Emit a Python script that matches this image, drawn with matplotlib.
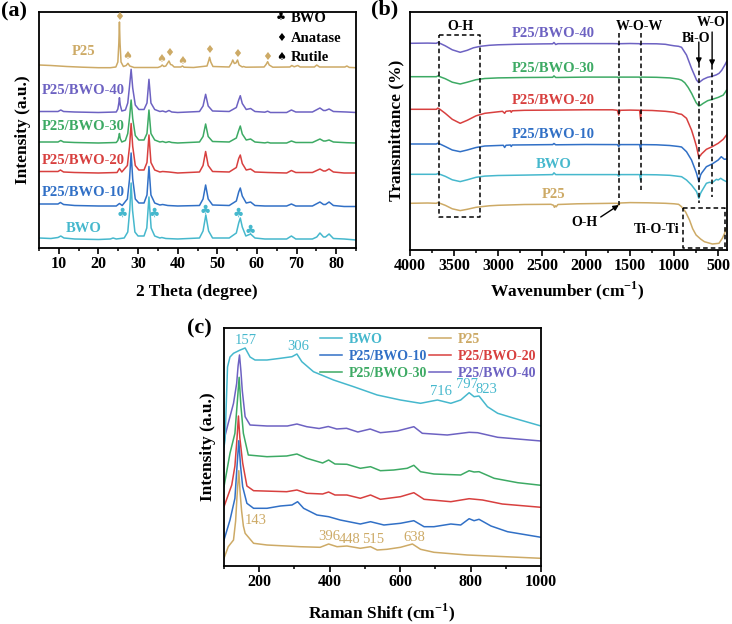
import matplotlib
matplotlib.use('Agg')
import matplotlib.pyplot as plt
from matplotlib.ticker import MultipleLocator

plt.rcParams['font.family'] = ['Liberation Serif', 'DejaVu Sans']
plt.rcParams['font.weight'] = 'bold'
plt.rcParams['mathtext.fontset'] = 'custom'
plt.rcParams['mathtext.rm'] = 'Liberation Serif:bold'
plt.rcParams['mathtext.bf'] = 'Liberation Serif:bold'

# ---------------- colours / names ----------------
names = ['P25', 'P25/BWO-40', 'P25/BWO-30', 'P25/BWO-20', 'P25/BWO-10', 'BWO']
colors = ['#CDAA66', '#6D62C2', '#3DAA64', '#D8403F', '#3170C6', '#46B8CD']

# ---------------- (a) XRD: (2theta, intensity above own baseline) ----------------
xrd_p25 = [(5, 3), (8, 2.5), (12, 1.5), (16, 0.8), (20, 0.3), (23, 0.3), (24.4, 1), (24.9, 6), (25.15, 25),
           (25.3, 46), (25.45, 25), (25.7, 6), (26.3, 1.5), (27.0, 2.5), (27.45, 4.7), (27.9, 2), (29, 0.5),
           (35, 0.5), (35.7, 1.5), (36.1, 3), (36.5, 1.5), (37.0, 2), (37.8, 7), (38.2, 3.5), (38.6, 3),
           (39.1, 1), (40.8, 1), (41.2, 2), (41.6, 0.8), (44, 0.5), (47.4, 2), (47.8, 7), (48.05, 10.7),
           (48.35, 6), (48.9, 1.5), (53, 1), (53.6, 5), (53.9, 8), (54.3, 4.5), (54.7, 5), (55.1, 8), (55.5, 3),
           (56.3, 1), (56.6, 1.5), (57.2, 0.8), (61.8, 1), (62.3, 3.5), (62.7, 6.3), (63.1, 3), (64, 0.8),
           (68.3, 1), (68.8, 2.5), (69.4, 1.2), (70.3, 2.5), (70.9, 1), (74.5, 1), (75.1, 3), (75.8, 1),
           (76.2, 1), (82.2, 1), (82.7, 2), (83.3, 0.6), (85, 0.3)]
xrd_b40 = [(5, 1.5), (9.8, 1.5), (10.5, 3), (11.2, 1.5), (14, 1), (20, 0.5), (24.5, 1), (24.9, 4), (25.15, 10),
           (25.3, 15.3), (25.5, 8), (25.9, 2), (26.8, 3), (27.4, 10), (27.85, 27), (28.25, 43.7), (28.65, 25),
           (29.3, 8), (30.2, 3.5), (31.5, 3.5), (32.25, 10), (32.75, 33.7), (33.25, 10), (34.2, 3.5), (35.5, 1.5),
           (36.2, 2), (37.0, 1), (37.8, 2.5), (38.5, 1), (40, 0.5), (45.5, 1.5), (46.4, 7), (47.05, 18.7),
           (47.7, 7), (48.8, 2), (53, 1.5), (54.8, 5.5), (55.4, 13), (55.8, 17.3), (56.3, 9.5), (57.3, 3.5),
           (58.4, 4.5), (59.5, 1.5), (62.0, 0.8), (62.7, 1.8), (63.4, 0.5), (67.5, 0.5), (68.7, 3), (69.8, 1),
           (74, 1), (75.9, 5), (76.8, 2.5), (77.3, 2.5), (78.2, 4), (79.3, 1.5), (82.6, 1), (85, 0.5)]
xrd_b30 = [(5, 1.5), (9.8, 1.5), (10.5, 3), (11.2, 1.5), (14, 1), (20, 0.5), (24.5, 1), (24.9, 3), (25.15, 7),
           (25.3, 10), (25.5, 5), (25.9, 1.5), (26.8, 3), (27.4, 10), (27.85, 26), (28.25, 43.5), (28.65, 25),
           (29.3, 8), (30.2, 3.5), (31.5, 3.5), (32.25, 10), (32.75, 33.5), (33.25, 10), (34.2, 3.5), (35.5, 1.5),
           (36.2, 2), (37.0, 1), (37.8, 1.8), (38.5, 1), (40, 0.5), (45.5, 1.5), (46.4, 7), (47.05, 19.5),
           (47.7, 7), (48.8, 2), (53, 1.5), (54.8, 5.5), (55.4, 13), (55.8, 17.5), (56.3, 9.5), (57.3, 3.5),
           (58.4, 4.5), (59.5, 1.5), (62.0, 0.6), (62.7, 1.2), (63.4, 0.5), (67.5, 0.5), (68.7, 2.5), (69.8, 1),
           (74, 1), (75.9, 4.5), (76.8, 2.5), (77.3, 2.5), (78.2, 3.5), (79.3, 1.5), (82.6, 0.8), (85, 0.5)]
xrd_b20 = [(5, 2), (9.8, 2), (10.4, 3.5), (11.2, 1.5), (14, 1), (20, 0.5), (24.7, 1), (25.3, 5), (25.9, 1.5),
           (27.3, 8), (27.85, 27), (28.25, 50), (28.65, 27), (29.3, 8), (30.2, 3.5), (31.5, 3.5), (32.25, 11),
           (32.75, 38.5), (33.25, 11), (34.2, 3.5), (35.5, 1.5), (36.2, 2), (37.8, 1.5), (40, 0.5), (45.5, 1.5),
           (46.4, 8), (47.05, 22), (47.7, 8), (48.8, 2), (53, 1.5), (54.8, 6), (55.4, 15), (55.8, 18.5),
           (56.3, 10), (57.3, 3.5), (58.4, 4.5), (59.5, 1.5), (62.7, 1), (67.5, 0.5), (68.7, 3), (69.8, 1),
           (74, 1), (75.9, 4.5), (76.8, 2.5), (77.3, 2.5), (78.2, 4.5), (79.3, 1.5), (82, 0.5), (85, 0.5)]
xrd_b10 = [(5, 3), (9.8, 3), (10.4, 4.5), (11.2, 2.5), (14, 1.5), (20, 1), (24.5, 1), (25.3, 3.5), (26, 1.5),
           (27.3, 8), (27.85, 28), (28.25, 54), (28.65, 28), (29.3, 8), (30.2, 4), (31.5, 4), (32.25, 12),
           (32.75, 40.5), (33.25, 12), (34.2, 4), (35.5, 2), (36.2, 2.5), (37.5, 1.5), (40, 1), (45.5, 1.5),
           (46.4, 8), (47.05, 22), (47.7, 8), (48.8, 2), (53, 1.5), (54.8, 6), (55.4, 15), (55.8, 19),
           (56.3, 11), (57.3, 4), (58.4, 5), (59.5, 1.5), (62, 1), (67.5, 1), (68.7, 3), (69.8, 1), (74, 1),
           (75.9, 5), (76.8, 2.5), (77.3, 2.5), (78.2, 5), (79.3, 1.5), (82, 0.5), (85, 0.5)]
xrd_bwo = [(5, 2), (8, 1.5), (9.8, 2.5), (10.5, 4), (11.3, 2), (14, 1), (20, 0.5), (23, 1), (23.7, 2), (24.5, 1),
           (26.5, 2), (27.4, 8), (27.9, 30), (28.25, 57), (28.6, 30), (29.2, 8), (30, 4), (31.5, 4), (32.2, 12),
           (32.75, 43), (33.3, 12), (34.2, 4), (35.5, 2), (36, 2.5), (37, 1.5), (40, 1), (45.5, 2), (46.4, 9),
           (47.1, 25), (47.8, 9), (48.8, 2), (53, 2), (54.8, 7), (55.4, 17), (55.8, 22), (56.3, 13), (57.2, 4),
           (58.4, 6), (59.5, 2), (62, 1), (67.5, 1), (68.7, 4), (69.8, 1), (74, 1), (75.1, 3), (75.9, 7),
           (76.8, 3), (77.3, 3), (78.2, 6), (79.3, 1.5), (82, 1), (85, 0)]
xrd_curves = [xrd_p25, xrd_b40, xrd_b30, xrd_b20, xrd_b10, xrd_bwo]
xrd_offsets = [180, 135, 104.5, 74.5, 41, 8]

anatase_pos = [(25.3, 231), (37.8, 195), (48.0, 198), (54.9, 194), (62.5, 191)]
rutile_pos = [(27.3, 192), (35.9, 189), (41.2, 187)]
bwo_pos = [(26.1, 34.7), (34.1, 34.7), (47.0, 37.3), (55.4, 34.7), (58.3, 18)]

# ---------------- (b) FTIR: (wavenumber, transmittance change) ----------------
ftir_b40 = [(4000, 0), (3800, 0.2), (3700, 0), (3685, 0.8), (3660, 0), (3600, -2.5), (3520, -6.5), (3430, -9),
            (3350, -7), (3280, -4.5), (3200, -3), (3100, -2), (3000, -1.5), (2800, -1), (2500, -0.6),
            (2380, -0.5), (2365, 0.8), (2345, -1.2), (2320, -0.4), (2000, -0.3), (1700, -0.3), (1640, -0.4),
            (1630, -1.3), (1618, -0.4), (1500, -0.2), (1392, -0.4), (1382, -1.5), (1372, -0.4), (1200, -0.5),
            (1100, -1), (1050, -1.8), (1000, -2.5), (950, -3), (916, -4), (860, -11.7), (803, -25),
            (746, -36.7), (720, -39.4), (700, -38), (670, -36), (620, -34), (569, -33), (520, -31.5),
            (490, -30), (460, -27), (440, -24), (420, -21), (405, -18.4)]
ftir_b30 = [(4000, 0), (3700, 0), (3685, 0.8), (3660, 0), (3600, -2), (3520, -5.5), (3430, -7.3), (3350, -5.5),
            (3250, -3), (3150, -1.8), (3000, -1.2), (2700, -0.8), (2380, -0.6), (2365, 0.8), (2345, -0.8),
            (2000, -0.4), (1640, -0.4), (1630, -1.5), (1618, -0.4), (1392, -0.4), (1382, -1.5), (1372, -0.4),
            (1200, -0.6), (1050, -1.2), (1000, -1.8), (950, -2.5), (916, -3.5), (880, -6), (841, -10.7),
            (800, -17), (784, -20), (750, -26), (720, -29.3), (700, -28.5), (671, -26.7), (620, -24),
            (569, -22.7), (500, -20.7), (443, -18.4), (420, -15.5), (405, -13.4)]
ftir_b20 = [(4000, 0), (3700, 0), (3685, 1.2), (3660, 0), (3600, -4), (3520, -10), (3430, -14), (3350, -11),
            (3250, -6.5), (3150, -4), (3000, -2.5), (2950, -2), (2925, -4), (2910, -2), (2860, -1.5),
            (2850, -3), (2840, -1.5), (2700, -1), (2400, -0.8), (2000, -0.5), (1700, -0.5), (1645, -1),
            (1630, -5.7), (1615, -1), (1500, -0.8), (1392, -1), (1382, -10), (1372, -1), (1250, -1.2),
            (1100, -2), (1000, -3), (950, -4.5), (916, -5), (860, -9), (803, -20.7), (770, -30), (746, -37.4),
            (720, -48), (700, -46), (690, -44.7), (634, -40), (569, -37.4), (500, -34), (443, -30), (405, -25.6)]
ftir_b10 = [(4000, 0), (3700, 0), (3685, 0.8), (3660, 0), (3600, -2.5), (3520, -6), (3430, -7.7), (3350, -6),
            (3250, -3.5), (3150, -2), (3000, -1.5), (2940, -1.3), (2925, -3.5), (2910, -1.3), (2860, -1),
            (2850, -2.5), (2840, -1), (2600, -0.8), (2380, -0.6), (2365, 0.5), (2345, -0.8), (2000, -0.5),
            (1645, -0.6), (1630, -2.5), (1615, -0.6), (1392, -0.6), (1382, -5.3), (1372, -0.6), (1200, -0.8),
            (1050, -1.5), (1000, -2), (950, -2.5), (916, -3), (860, -7.7), (803, -16), (760, -26), (746, -29.3),
            (720, -37.7), (700, -31), (690, -29.3), (634, -22.7), (569, -20), (500, -16), (465, -12.7),
            (430, -15.3), (405, -15)]
ftir_bwo = [(4000, 0), (3700, 0), (3685, 0.8), (3660, 0), (3600, -2), (3520, -5.5), (3430, -7.3), (3350, -5.5),
            (3250, -3), (3150, -1.8), (3000, -1.2), (2700, -0.8), (2380, -0.3), (2365, 1.5), (2345, -0.3),
            (2000, -0.3), (1645, -0.3), (1630, -2), (1615, -0.3), (1392, -0.3), (1382, -5.7), (1372, -0.3),
            (1200, -0.5), (1050, -1), (1000, -1.5), (916, -2.4), (860, -5.7), (803, -10.7), (746, -17.3),
            (720, -24), (700, -19), (690, -17.3), (634, -9), (600, -8), (569, -8.4), (520, -5), (500, -5.7),
            (472, -4), (443, -5.7), (405, -7.4)]
ftir_p25 = [(4000, 0), (3800, 0.3), (3700, 0), (3685, 0.8), (3660, 0), (3600, -2), (3520, -5.5), (3430, -7.3),
            (3350, -6), (3250, -4), (3100, -2.5), (3000, -2), (2700, -1.2), (2400, -1), (2370, -2), (2360, -4),
            (2350, -2.5), (2340, -3.5), (2320, -1.2), (2100, -0.5), (1700, 0), (1645, 0), (1630, -2),
            (1615, 0.3), (1500, 0.7), (1300, 0.5), (1100, 0), (1000, -0.5), (950, -1), (916, -3.4),
            (870, -8.7), (826, -16.7), (790, -25.4), (751, -31.7), (700, -35.7), (657, -38.4), (566, -40.7),
            (491, -40), (453, -35), (427, -30), (410, -25)]
ftir_curves = [ftir_p25, ftir_b40, ftir_b30, ftir_b20, ftir_b10, ftir_bwo]
ftir_offsets = [46.7, 206.7, 173.3, 140.7, 106, 75.7]

# ---------------- (c) Raman: (shift, intensity) ----------------
raman_bwo = [(100, 119), (103, 126), (110, 199), (117, 209), (127, 212.7), (146, 216), (160, 218), (174, 209),
             (188, 206), (222, 206), (260, 207.7), (293, 209.3), (307, 212), (321, 204.3), (354, 194.3),
             (411, 186), (468, 179.3), (535, 171), (601, 166), (658, 162.7), (706, 166), (744, 162.7),
             (772, 166), (796, 173.3), (810, 169.3), (824, 170), (848, 159.3), (877, 152.7), (924, 147.7),
             (1000, 140)]
raman_b40 = [(100, 126), (112, 142.7), (127, 162.7), (136, 182.7), (140, 200), (144, 211), (148, 195),
             (152, 175), (160, 149.3), (174, 141), (222, 140), (280, 140), (307, 142), (335, 139.3),
             (370, 137.5), (396, 139.5), (420, 137), (448, 137.7), (480, 134), (515, 137), (544, 133.3),
             (592, 135), (639, 139.3), (663, 132.7), (734, 131), (796, 133.7), (820, 133.3), (877, 128.7),
             (1000, 125)]
raman_b30 = [(100, 79.3), (117, 112.7), (131, 132.7), (138, 165), (143, 188.7), (148, 160), (155, 132.7),
             (169, 111), (222, 109.3), (278, 110), (307, 112), (335, 107.7), (380, 103), (397, 106),
             (415, 102), (449, 101.7), (487, 97.7), (516, 99.3), (544, 95.3), (582, 96), (620, 97.7),
             (639, 100.7), (658, 94.3), (696, 92), (772, 91), (796, 95.3), (810, 94), (824, 94.3),
             (867, 87.7), (934, 83.3), (1000, 80.7)]
raman_b20 = [(100, 59.3), (122, 81), (131, 100), (137, 128), (141, 150), (145, 128), (153, 103), (165, 80),
             (184, 75.3), (278, 74.3), (307, 76), (335, 72.7), (380, 72), (397, 74), (415, 71), (449, 71),
             (487, 67.7), (516, 71), (544, 66.7), (601, 69.3), (639, 73.3), (668, 66.7), (744, 64.3),
             (796, 67.3), (834, 66), (890, 62), (1000, 58.7)]
raman_b10 = [(100, 26), (117, 46), (131, 67.7), (137, 100), (142, 125.3), (147, 100), (153, 79.3), (165, 62.7),
             (184, 57.7), (222, 57.7), (260, 60), (293, 61), (309, 64.3), (326, 57.7), (364, 51), (397, 49.3),
             (430, 46), (487, 42), (516, 44.3), (554, 41), (601, 42.7), (639, 45.3), (668, 39.3), (696, 39.3),
             (744, 42), (772, 41), (796, 47.3), (810, 45.3), (824, 46.7), (858, 40), (905, 34.3), (1000, 28.7)]
raman_p25 = [(100, 7.7), (112, 19.3), (127, 26), (133, 45), (137, 70), (142, 95.3), (146, 72), (150, 55),
             (155, 40), (160, 32.7), (184, 22.7), (222, 21), (316, 19.3), (373, 18.7), (397, 22), (421, 19.3),
             (449, 20), (487, 17.7), (516, 19.3), (535, 16), (563, 16.7), (601, 18.7), (635, 22), (658, 16.7),
             (696, 13.7), (791, 11), (1000, 7.7)]
raman_curves = [raman_p25, raman_b40, raman_b30, raman_b20, raman_b10, raman_bwo]

bwo_peaks = [(157, 225.3), (306, 219.3), (716, 174.3), (797, 181), (823, 176.7)]
p25_peaks = [(143, 45.3), (396, 30), (448, 26.7), (515, 26.7), (638, 28.7)]
bwo_peak_text_x = [161.8, 311.6, 715, 789, 846]
p25_peak_text_x = [190.3, 398, 457.5, 524.5, 639]

# ---------------- figure ----------------
W, H = 732, 624
fig = plt.figure(figsize=(W / 100, H / 100), dpi=100)


def box(l, t, r, b):
    return [l / W, 1 - b / H, (r - l) / W, (b - t) / H]


ax_a = fig.add_axes(box(39, 12, 356, 248))
ax_b = fig.add_axes(box(410, 12, 727, 250))
ax_c = fig.add_axes(box(224, 328, 541, 566))


def style(ax, major, minor):
    for s in ax.spines.values():
        s.set_linewidth(1.3)
    ax.set_yticks([])
    ax.xaxis.set_major_locator(MultipleLocator(major))
    ax.xaxis.set_minor_locator(MultipleLocator(minor))
    ax.tick_params(axis='x', which='major', direction='out', length=4, width=1.2, labelsize=11.5, pad=2)
    ax.tick_params(axis='x', which='minor', direction='out', length=2.3, width=1.1)


LW = 1.1

# (a)
for pts, off, c in zip(xrd_curves, xrd_offsets, colors):
    ax_a.plot([p[0] for p in pts], [p[1] + off for p in pts], color=c, lw=LW)
ax_a.set_xlim(5, 85)
ax_a.set_ylim(0, 236)
style(ax_a, 10, 5)
lab_y_a = [196.3, 158, 121.3, 87.3, 55.7, 19.7]
for n, c, yy in zip(names, colors, lab_y_a):
    ax_a.text(16.2, yy, n, color=c, fontsize=10.5, ha='center', va='center')
sym = dict(family='DejaVu Sans', fontsize=8, ha='center', va='center')
for x, y in anatase_pos:
    ax_a.text(x, y, '\u2666', color=colors[0], **sym)
for x, y in rutile_pos:
    ax_a.text(x, y, '\u2660', color=colors[0], **sym)
for x, y in bwo_pos:
    ax_a.text(x, y, '\u2663', color=colors[5], family='DejaVu Sans', fontsize=9, ha='center', va='center')
for (s, t, yy) in [('\u2663', 'BWO', 230), ('\u2666', 'Anatase', 210), ('\u2660', 'Rutile', 190.7)]:
    ax_a.text(66.1, yy, s, color='k', **sym)
    ax_a.text(68.6, yy, t, color='k', fontsize=10.5, ha='left', va='center')

# (b)
for pts, off, c in zip(ftir_curves, ftir_offsets, colors):
    ax_b.plot([p[0] for p in pts], [p[1] + off for p in pts], color=c, lw=LW)
ax_b.set_xlim(4000, 400)
ax_b.set_ylim(0, 238)
style(ax_b, 500, 250)
lab_y_b = [56, 216.7, 182, 149, 115, 85]
for n, c, yy in zip(names, colors, lab_y_b):
    ax_b.text(2373, yy, n, color=c, fontsize=10.5, ha='center', va='center')
dk = dict(color='k', lw=1.1, ls=(0, (3, 2)))
ax_b.plot([3670, 3205, 3205, 3670, 3670], [215, 215, 33, 33, 215], **dk)
ax_b.plot([898, 425, 425, 898, 898], [41.7, 41.7, 2.3, 2.3, 41.7], **dk)
ax_b.plot([1630, 1630], [217, 45], **dk)
ax_b.plot([1382, 1382], [217, 60], **dk)
ax_b.plot([720, 720], [187, 47], **dk)
ax_b.plot([569, 569], [185, 53], **dk)
arr = dict(arrowstyle='-|>', color='k', lw=1.0, mutation_scale=8, shrinkA=0, shrinkB=0)
ax_b.annotate('', xy=(720, 186), xytext=(720, 208), arrowprops=arr)
ax_b.annotate('', xy=(569, 184), xytext=(569, 218), arrowprops=arr)
ax_b.text(3432, 224, 'O-H', fontsize=10, ha='center', va='center')
ax_b.text(1390, 224, 'W-O-W', fontsize=10, ha='center', va='center')
ax_b.text(755, 211.7, 'Bi-O', fontsize=10, ha='center', va='center')
ax_b.text(576, 227.3, 'W-O', fontsize=10, ha='center', va='center')
ax_b.text(1200, 20.7, 'Ti-O-Ti', fontsize=10, ha='center', va='center')
ax_b.annotate('O-H', xy=(1628, 45), xytext=(2014, 27.3), fontsize=10, ha='center', va='center',
              arrowprops=dict(arrowstyle='-|>', color='k', lw=1.0, mutation_scale=8, shrinkA=0, shrinkB=0,
                              relpos=(1.0, 0.8)))

# (c)
lines = {}
for pts, n, c in zip(raman_curves, names, colors):
    lines[n], = ax_c.plot([p[0] for p in pts], [p[1] for p in pts], color=c, lw=LW)
ax_c.set_xlim(100, 1000)
ax_c.set_ylim(0, 238)
style(ax_c, 200, 100)
order = ['BWO', 'P25/BWO-10', 'P25/BWO-30', 'P25', 'P25/BWO-20', 'P25/BWO-40']
leg = ax_c.legend([lines[n] for n in order], order, ncol=2, loc='upper right', frameon=False,
                  prop=dict(weight='bold', size=10), handlelength=1.6, handletextpad=0.45,
                  columnspacing=0.15, labelspacing=0.28, borderpad=0.1, borderaxespad=0.25,
                  labelcolor='linecolor')
for (pk, yy), tx in zip(bwo_peaks, bwo_peak_text_x):
    ax_c.text(tx, yy, str(pk), color=colors[5], fontsize=10.5, weight='normal', ha='center', va='center')
for (pk, yy), tx in zip(p25_peaks, p25_peak_text_x):
    ax_c.text(tx, yy, str(pk), color=colors[0], fontsize=10.5, weight='normal', ha='center', va='center')

# labels
def ftext(x, y, s, **kw):
    fig.text(x / W, 1 - y / H, s, ha='center', va='center', **kw)

ftext(23, 130, 'Intensity (a.u.)', fontsize=12.5, rotation=90)
ftext(197, 292, '2 Theta (degree)', fontsize=12.5)
ftext(396.7, 130, 'Transmittance (%)', fontsize=12.5, rotation=90)
ftext(567, 291, r'Wavenumber (cm$^{\mathbf{-1}}$)', fontsize=12.5)
ftext(208, 446.7, 'Intensity (a.u.)', fontsize=12.5, rotation=90)
ftext(382, 613, r'Raman Shift (cm$^{\mathbf{-1}}$)', fontsize=12.5)
ftext(13.5, 11.5, '(a)', fontsize=16)
ftext(385, 9.5, '(b)', fontsize=16)
ftext(199.7, 328, '(c)', fontsize=16)

fig.savefig('out.png', dpi=100)
